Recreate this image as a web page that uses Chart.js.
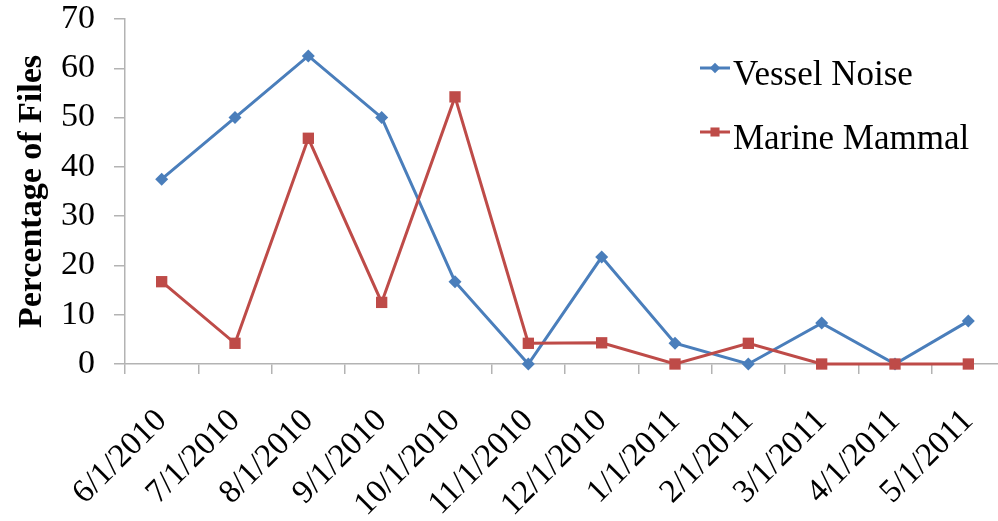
<!DOCTYPE html>
<html>
<head>
<meta charset="utf-8">
<script src="https://cdn.jsdelivr.net/npm/chart.js@4/dist/chart.umd.min.js"></script>
<style>
  html, body { margin: 0; padding: 0; background: #fff; overflow: hidden; }
  #wrap { width: 1013px; height: 521px; }
</style>
</head>
<body>
<div id="wrap"><canvas id="c" width="1013" height="521"></canvas></div>
<script>
// Monthly share of recorded files containing each sound type
const months = ['6/1/2010', '7/1/2010', '8/1/2010', '9/1/2010', '10/1/2010', '11/1/2010',
                '12/1/2010', '1/1/2011', '2/1/2011', '3/1/2011', '4/1/2011', '5/1/2011'];
const vesselNoise  = [37.5, 50, 62.5, 50, 16.7, 0, 21.7, 4.2, 0, 8.3, 0, 8.7];
const marineMammal = [16.7, 4.2, 45.8, 12.5, 54.2, 4.2, 4.3, 0, 4.2, 0, 0, 0];
const yTicks = [0, 10, 20, 30, 40, 50, 60, 70];

const BLUE = '#4a7ebb';
const RED = '#be4b48';
const AXIS = '#b3b3b3';
const SERIF = '"Liberation Serif", "Times New Roman", serif';

// Legend drawn as a stacked list beside the lines, inside the plot
const sideLegend = {
  id: 'sideLegend',
  afterDraw(chart) {
    const ctx = chart.ctx;
    const x0 = 700, lineLen = 30, rowGap = 64;
    const lineY0 = 68, baseY0 = 85;
    ctx.save();
    chart.data.datasets.forEach((ds, i) => {
      const ly = lineY0 + i * rowGap;
      ctx.strokeStyle = ds.borderColor;
      ctx.lineWidth = ds.borderWidth;
      ctx.beginPath();
      ctx.moveTo(x0, ly);
      ctx.lineTo(x0 + lineLen, ly);
      ctx.stroke();
      ctx.fillStyle = ds.backgroundColor;
      Chart.helpers.drawPoint(ctx, {
        pointStyle: ds.pointStyle, radius: ds.pointRadius * 0.8, rotation: 0, borderWidth: 0
      }, x0 + lineLen / 2, ly);
      ctx.fillStyle = '#000';
      ctx.font = '35px ' + SERIF;
      ctx.textBaseline = 'alphabetic';
      ctx.textAlign = 'left';
      ctx.fillText(ds.label, x0 + lineLen + 3, baseY0 + i * rowGap);
    });
    ctx.restore();
  }
};

new Chart(document.getElementById('c'), {
  type: 'line',
  data: {
    labels: months,
    datasets: [
      {
        label: 'Vessel Noise',
        data: vesselNoise,
        borderColor: BLUE,
        backgroundColor: BLUE,
        borderWidth: 3,
        pointStyle: 'rectRot',
        pointRadius: 6.5,
        pointBorderWidth: 0,
        tension: 0,
        clip: false,
        order: 1
      },
      {
        label: 'Marine Mammal',
        data: marineMammal,
        borderColor: RED,
        backgroundColor: RED,
        borderWidth: 3,
        pointStyle: 'rect',
        pointRadius: 8,
        pointBorderWidth: 0,
        tension: 0,
        clip: false,
        order: 0
      }
    ]
  },
  options: {
    responsive: false,
    animation: false,
    layout: { padding: { top: 19, right: 1, bottom: 0, left: 0 } },
    plugins: {
      legend: { display: false },
      tooltip: { enabled: false }
    },
    scales: {
      x: {
        type: 'category',
        offset: true,
        grid: {
          offset: true,
          drawOnChartArea: false,
          drawTicks: true,
          tickLength: 10,
          color: AXIS,
          lineWidth: 1.5
        },
        border: { display: true, color: AXIS, width: 1.5 },
        ticks: {
          autoSkip: false,
          minRotation: 45,
          maxRotation: 45,
          padding: 30,
          color: '#000',
          font: { family: SERIF, size: 33, lineHeight: 1 }
        },
        afterFit(scale) {
          scale.height = 157;
          scale.paddingLeft = 0;
          scale.paddingRight = 0;
        }
      },
      y: {
        min: 0,
        max: 70,
        afterBuildTicks(scale) { scale.ticks = yTicks.map(v => ({ value: v })); },
        grid: {
          drawOnChartArea: false,
          drawTicks: true,
          tickLength: 11,
          color: AXIS,
          lineWidth: 1.5
        },
        border: { display: true, color: AXIS, width: 1.5 },
        ticks: {
          padding: 19,
          color: '#000',
          font: { family: SERIF, size: 34, lineHeight: 1 }
        },
        title: {
          display: true,
          text: 'Percentage of Files',
          color: '#000',
          padding: { top: 12, bottom: 0 },
          font: { family: SERIF, size: 34, weight: 'bold', lineHeight: 1.2 }
        },
        afterFit(scale) {
          scale.width = 125;
          scale.paddingTop = 0;
          scale.paddingBottom = 0;
        }
      }
    }
  },
  plugins: [sideLegend]
});
</script>
</body>
</html>
